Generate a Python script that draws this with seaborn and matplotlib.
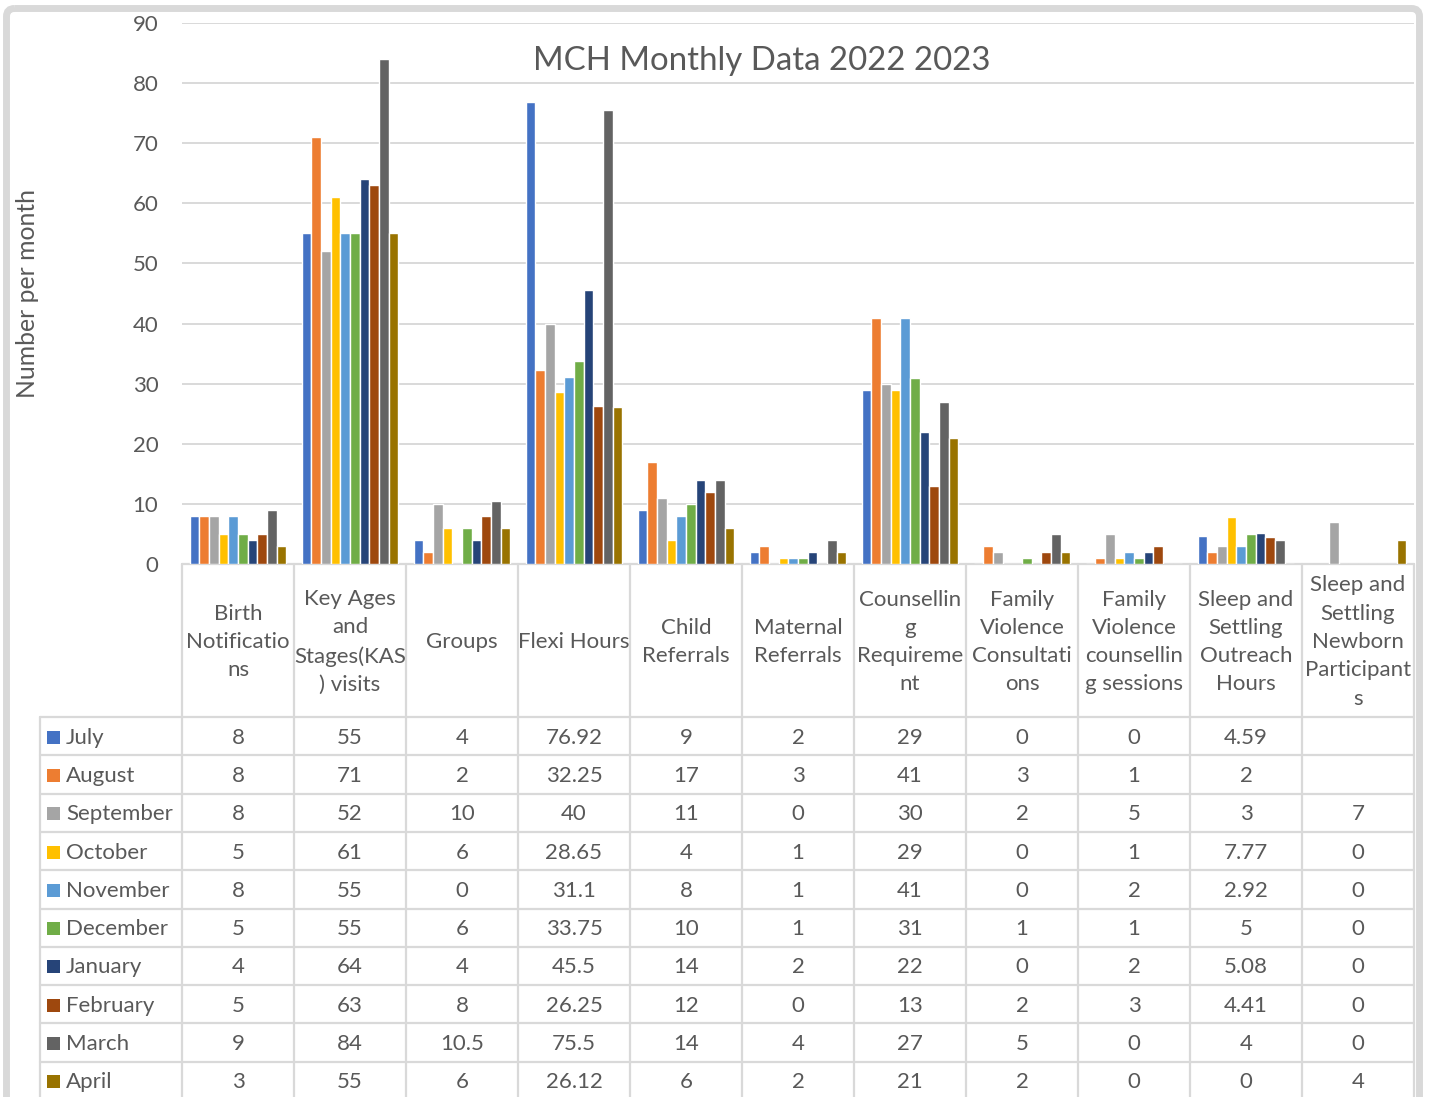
import numpy as np
import pandas as pd
import matplotlib
matplotlib.use("Agg")
import matplotlib.pyplot as plt
from matplotlib.patches import Rectangle, FancyBboxPatch
from matplotlib.lines import Line2D
import seaborn as sns

# ---------------- data ----------------
categories = [
    "Birth Notifications", "Key Ages and Stages(KAS) visits", "Groups", "Flexi Hours",
    "Child Referrals", "Maternal Referrals", "Counselling Requirement",
    "Family Violence Consultations", "Family Violence counselling sessions",
    "Sleep and Settling Outreach Hours", "Sleep and Settling Newborn Participants",
]
header_labels = [
    "Birth\nNotificatio\nns", "Key Ages\nand\nStages(KAS\n) visits", "Groups", "Flexi Hours",
    "Child\nReferrals", "Maternal\nReferrals", "Counsellin\ng\nRequireme\nnt",
    "Family\nViolence\nConsultati\nons", "Family\nViolence\ncounsellin\ng sessions",
    "Sleep and\nSettling\nOutreach\nHours", "Sleep and\nSettling\nNewborn\nParticipant\ns",
]
months = ["July", "August", "September", "October", "November", "December",
          "January", "February", "March", "April"]
colors = ["#4472C4", "#ED7D31", "#A5A5A5", "#FFC000", "#5B9BD5", "#70AD47",
          "#264478", "#9E480E", "#636363", "#997300"]

july      = [8, 55, 4, 76.92, 9, 2, 29, 0, 0, 4.59, np.nan]
august    = [8, 71, 2, 32.25, 17, 3, 41, 3, 1, 2, np.nan]
september = [8, 52, 10, 40, 11, 0, 30, 2, 5, 3, 7]
october   = [5, 61, 6, 28.65, 4, 1, 29, 0, 1, 7.77, 0]
november  = [8, 55, 0, 31.1, 8, 1, 41, 0, 2, 2.92, 0]
december  = [5, 55, 6, 33.75, 10, 1, 31, 1, 1, 5, 0]
january   = [4, 64, 4, 45.5, 14, 2, 22, 0, 2, 5.08, 0]
february  = [5, 63, 8, 26.25, 12, 0, 13, 2, 3, 4.41, 0]
march     = [9, 84, 10.5, 75.5, 14, 4, 27, 5, 0, 4, 0]
april     = [3, 55, 6, 26.12, 6, 2, 21, 2, 0, 0, 4]
series = [july, august, september, october, november, december,
          january, february, march, april]

title = "MCH Monthly Data 2022 2023"
ylabel = "Number per month"

rows = []
for m, vals in zip(months, series):
    for c, v in zip(categories, vals):
        rows.append({"month": m, "category": c, "value": v})
df = pd.DataFrame(rows)

# ---------------- style ----------------
sns.set_style("white")
plt.rcParams["font.family"] = ["Lato", "DejaVu Sans"]
TXT = "#595959"
GRID = "#d9d9d9"
FS = 16

W, H = 1429, 1097
fig = plt.figure(figsize=(W / 100, H / 100), dpi=100)
fig.patch.set_facecolor("white")

# bar axes
L, R, T, B = 182, 1414, 23, 564
ax = fig.add_axes([L / W, 1 - B / H, (R - L) / W, (B - T) / H])
sns.barplot(data=df.dropna(), x="category", y="value", hue="month",
            order=categories, hue_order=months, palette=colors, saturation=1,
            width=0.865, edgecolor="white", linewidth=1.0,
            errorbar=None, legend=False, ax=ax)
ax.set_xlim(-0.5, len(categories) - 0.5)
ax.set_ylim(0, 90)
ax.set_yticks(np.arange(0, 91, 10))
ax.yaxis.grid(True, color=GRID, linewidth=1.4)
ax.set_axisbelow(True)
for s in ax.spines.values():
    s.set_visible(False)
ax.set_xticks([])
ax.set_xlabel("")
ax.set_ylabel("")
ax.tick_params(axis="y", length=0, pad=17, labelsize=FS, labelcolor=TXT)
ax.patch.set_alpha(0)

# overlay axes in pixel coordinates for table / text
ov = fig.add_axes([0, 0, 1, 1], zorder=-1)
ov.set_xlim(0, W)
ov.set_ylim(H, 0)
ov.axis("off")

ov.text(762, 61, title, ha="center", va="center", fontsize=23.8, color=TXT)
ov.text(28, 293, ylabel, ha="center", va="center", rotation=90, fontsize=17.8, color=TXT)

# table
cw = (R - L) / len(categories)
row_top = 717
rh = 38.3
lw_t = 1.6
for k in range(len(categories) + 1):
    x = L + cw * k
    ov.add_line(Line2D([x, x], [B, H + 5], color=GRID, lw=lw_t))
ov.add_line(Line2D([40, 40], [row_top, H + 5], color=GRID, lw=lw_t))
ov.add_line(Line2D([L, R], [B, B], color=GRID, lw=lw_t))
for r in range(len(months) + 1):
    y = row_top + rh * r
    ov.add_line(Line2D([40, R], [y, y], color=GRID, lw=lw_t))

for i, lab in enumerate(header_labels):
    ov.text(L + cw * (i + 0.5), 642, lab, ha="center", va="center",
            fontsize=FS, color=TXT, linespacing=1.52)

def fmt(v):
    if v is None or (isinstance(v, float) and np.isnan(v)):
        return ""
    return f"{v:g}"

for r, (m, vals, col) in enumerate(zip(months, series, colors)):
    yc = row_top + rh * (r + 0.5) + 1.5
    ov.add_patch(Rectangle((47, yc - 7), 13, 13, facecolor=col, edgecolor="none"))
    ov.text(66, yc, m, ha="left", va="center", fontsize=FS, color=TXT)
    for i, v in enumerate(vals):
        ov.text(L + cw * (i + 0.5), yc, fmt(v), ha="center", va="center",
                fontsize=FS, color=TXT)

# outer frame
frame = FancyBboxPatch((6.5, 8.5), 1413, 1200, boxstyle="round,pad=0,rounding_size=8",
                       linewidth=5, edgecolor=GRID, facecolor="none")
ov.add_patch(frame)

fig.savefig("out.png", dpi=100, facecolor="white")
